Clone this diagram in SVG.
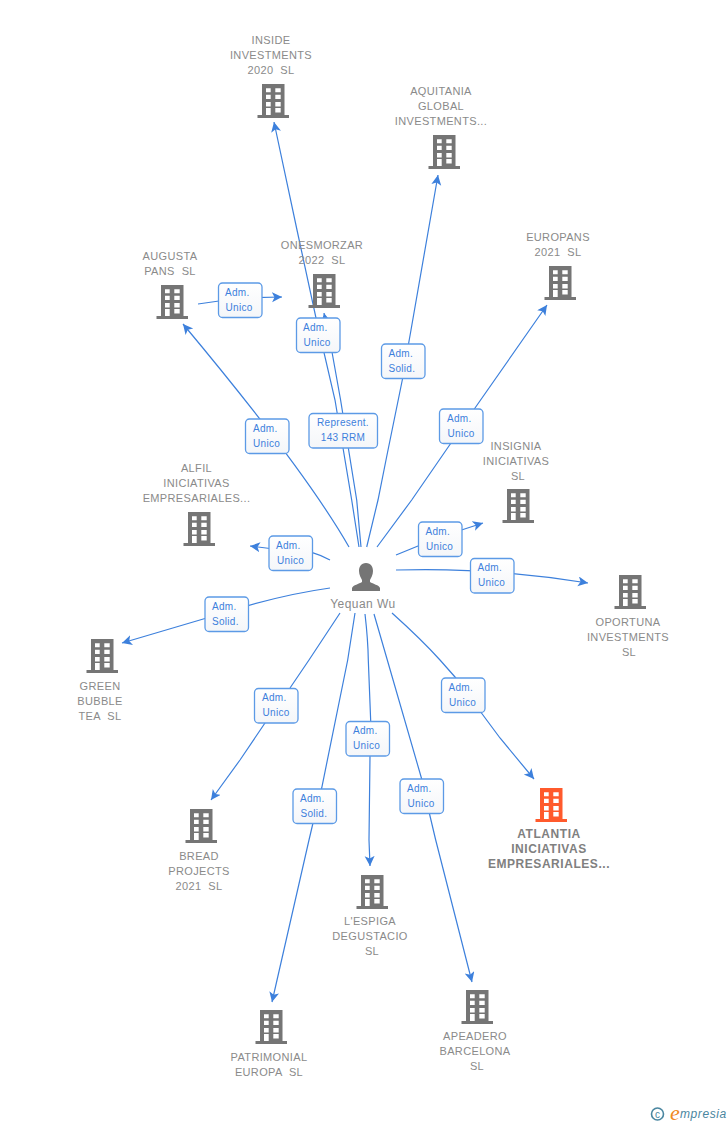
<svg xmlns="http://www.w3.org/2000/svg" width="728" height="1125" viewBox="0 0 728 1125">
<style>
text{font-family:"Liberation Sans",Arial,sans-serif}
.n{font-size:11px;fill:#8a8a8a;text-anchor:middle;letter-spacing:.35px;word-spacing:3.5px}
.a{font-size:12px;font-weight:bold;fill:#808080;letter-spacing:.55px;word-spacing:2px;text-anchor:middle}
.l{font-size:10px;fill:#3d80dc;letter-spacing:.3px}
.c path{fill:none;stroke:#3d80dc;stroke-width:1.2}
.b{fill:url(#g);stroke:#5c9ae6;stroke-width:1.3}
</style>
<defs>
<linearGradient id="g" x1="0" y1="0" x2="0" y2="1"><stop offset="0" stop-color="#fff"/><stop offset="1" stop-color="#f4f6f9"/></linearGradient>
<marker id="m" markerUnits="userSpaceOnUse" markerWidth="12" markerHeight="12" refX="10" refY="5" orient="auto"><path d="M0 0L10 5L0 10L2.500 5Z" fill="#3d80dc"/></marker>
<symbol id="i" overflow="visible"><path fill-rule="evenodd" d="M-11.500 0H11V31H15.500V34H-16V31H-11.500ZM-7.500 4.300V8.300H-2.800V4.300ZM1.800 4.300V8.300H7.200V4.300ZM-7.500 10.700V15H-2.800V10.700ZM1.800 10.700V15H7.200V10.700ZM-7.500 18V22.500H-2.800V18ZM1.800 18V22.500H7.200V18ZM-7.500 24V31H-2.800V24ZM1.800 24V28.500H7.200V24Z"/></symbol>
</defs>
<rect width="728" height="1125" fill="#fff"/>
<g id="connectors" class="c">
<path marker-end="url(#m)" d="M359 547L351.700 500L335 400L316 318L297 230L274 122"/>
<path marker-end="url(#m)" d="M361 547L356.700 500L340.600 400L332 352L324 313"/>
<path marker-end="url(#m)" d="M366.700 547L378 500L387 455L402.700 378L408.700 343L411 330L438 175"/>
<path marker-end="url(#m)" d="M377 547L411.700 500L451 443L474.300 409L547 305"/>
<path marker-end="url(#m)" d="M349 547Q305 470 183 324"/>
<path marker-end="url(#m)" d="M396 555L440 537L483 523"/>
<path marker-end="url(#m)" d="M396 570Q490 567 588 583"/>
<path marker-end="url(#m)" d="M330 560Q310 549 290 551L250 546"/>
<path marker-end="url(#m)" d="M330 588Q280 595 227 612L122 643"/>
<path marker-end="url(#m)" d="M340 613L309 660L290 688L265 723L240 760L211 800"/>
<path marker-end="url(#m)" d="M392 613Q422 640 440 660L455 677L480.700 712L500 738L534 779"/>
<path marker-end="url(#m)" d="M365 614Q368 640 368.300 660L370.700 721L370 756L369 840L370 866"/>
<path marker-end="url(#m)" d="M374 614Q380 635 387.300 660L421.700 779L429.300 813L435.700 840L472 982"/>
<path marker-end="url(#m)" d="M355 613L347.700 660L321.700 788L313 823L309 840L272 1002"/>
<path marker-end="url(#m)" d="M198 304L240 298L282 297"/>
</g>
<g id="edge-labels">
<g><rect class="b" x="218.500" y="283" width="43.500" height="34.500" rx="4"/><text class="l" x="225" y="296">Adm.</text><text class="l" x="225.500" y="311">Unico</text></g>
<g><rect class="b" x="296.500" y="318" width="43.500" height="34.500" rx="4"/><text class="l" x="303" y="331">Adm.</text><text class="l" x="303.500" y="346">Unico</text></g>
<g><rect class="b" x="381.500" y="344" width="43.500" height="34.500" rx="4"/><text class="l" x="388.500" y="357">Adm.</text><text class="l" x="388.500" y="372">Solid.</text></g>
<g><rect class="b" x="439.500" y="409" width="43.500" height="34.500" rx="4"/><text class="l" x="447" y="422">Adm.</text><text class="l" x="447.500" y="437">Unico</text></g>
<g><rect class="b" x="309" y="413.500" width="68.500" height="34.500" rx="4"/><text class="l" x="343" y="426" text-anchor="middle">Represent.</text><text class="l" x="343" y="441" text-anchor="middle">143 RRM</text></g>
<g><rect class="b" x="245.500" y="419" width="43.500" height="34.500" rx="4"/><text class="l" x="253" y="432">Adm.</text><text class="l" x="253" y="447">Unico</text></g>
<g><rect class="b" x="418.500" y="522" width="43.500" height="34.500" rx="4"/><text class="l" x="425.500" y="535">Adm.</text><text class="l" x="426" y="550">Unico</text></g>
<g><rect class="b" x="269" y="536" width="43.500" height="34.500" rx="4"/><text class="l" x="276" y="549">Adm.</text><text class="l" x="277" y="564">Unico</text></g>
<g><rect class="b" x="470.500" y="558.500" width="43.500" height="34.500" rx="4"/><text class="l" x="477.500" y="571">Adm.</text><text class="l" x="478" y="586">Unico</text></g>
<g><rect class="b" x="205" y="597" width="43.500" height="34.500" rx="4"/><text class="l" x="212" y="610">Adm.</text><text class="l" x="212" y="625">Solid.</text></g>
<g><rect class="b" x="441.500" y="678" width="43.500" height="34.500" rx="4"/><text class="l" x="448.500" y="691">Adm.</text><text class="l" x="449" y="706">Unico</text></g>
<g><rect class="b" x="254.500" y="688.500" width="43.500" height="34.500" rx="4"/><text class="l" x="262" y="701">Adm.</text><text class="l" x="262.500" y="716">Unico</text></g>
<g><rect class="b" x="346" y="721.500" width="43.500" height="34.500" rx="4"/><text class="l" x="353" y="734">Adm.</text><text class="l" x="353" y="749">Unico</text></g>
<g><rect class="b" x="400" y="779" width="43.500" height="34.500" rx="4"/><text class="l" x="407" y="792">Adm.</text><text class="l" x="407.500" y="807">Unico</text></g>
<g><rect class="b" x="293" y="789" width="43.500" height="34.500" rx="4"/><text class="l" x="300" y="802">Adm.</text><text class="l" x="300.500" y="817">Solid.</text></g>
</g>
<g id="inside" fill="#757575"><use href="#i" x="273.500" y="84"/><text class="n" x="271" y="44">INSIDE</text><text class="n" x="271" y="59">INVESTMENTS</text><text class="n" x="271" y="74">2020 SL</text></g>
<g id="aquitania" fill="#757575"><use href="#i" x="444.500" y="135"/><text class="n" x="441" y="95">AQUITANIA</text><text class="n" x="441" y="110">GLOBAL</text><text class="n" x="441" y="125">INVESTMENTS...</text></g>
<g id="europans" fill="#757575"><use href="#i" x="560.500" y="266"/><text class="n" x="558" y="241">EUROPANS</text><text class="n" x="558" y="256">2021 SL</text></g>
<g id="augusta" fill="#757575"><use href="#i" x="172.500" y="285"/><text class="n" x="170" y="260">AUGUSTA</text><text class="n" x="170" y="275">PANS SL</text></g>
<g id="onesmorzar" fill="#757575"><use href="#i" x="324.500" y="274"/><text class="n" x="322" y="249">ONESMORZAR</text><text class="n" x="322" y="264">2022 SL</text></g>
<g id="insignia" fill="#757575"><use href="#i" x="518.500" y="489"/><text class="n" x="516" y="450">INSIGNIA</text><text class="n" x="516" y="465">INICIATIVAS</text><text class="n" x="518" y="480">SL</text></g>
<g id="alfil" fill="#757575"><use href="#i" x="199.500" y="512"/><text class="n" x="196.500" y="472">ALFIL</text><text class="n" x="196.500" y="487">INICIATIVAS</text><text class="n" x="196.500" y="502">EMPRESARIALES...</text></g>
<g id="oportuna" fill="#757575"><use href="#i" x="630.500" y="575"/><text class="n" x="628" y="626">OPORTUNA</text><text class="n" x="628" y="641">INVESTMENTS</text><text class="n" x="629" y="656">SL</text></g>
<g id="green" fill="#757575"><use href="#i" x="102.500" y="639"/><text class="n" x="100" y="690">GREEN</text><text class="n" x="100" y="705">BUBBLE</text><text class="n" x="100" y="720">TEA SL</text></g>
<g id="bread" fill="#757575"><use href="#i" x="201.500" y="809"/><text class="n" x="199" y="860">BREAD</text><text class="n" x="199" y="875">PROJECTS</text><text class="n" x="199" y="890">2021 SL</text></g>
<g id="atlantia" fill="#ff5a2c"><use href="#i" x="551.500" y="788"/><text class="a" x="549" y="838">ATLANTIA</text><text class="a" x="549" y="853">INICIATIVAS</text><text class="a" x="549" y="868">EMPRESARIALES...</text></g>
<g id="espiga" fill="#757575"><use href="#i" x="372.500" y="875"/><text class="n" x="370" y="925">L'ESPIGA</text><text class="n" x="370" y="940">DEGUSTACIO</text><text class="n" x="372" y="955">SL</text></g>
<g id="apeadero" fill="#757575"><use href="#i" x="477.500" y="990"/><text class="n" x="475" y="1040">APEADERO</text><text class="n" x="475" y="1055">BARCELONA</text><text class="n" x="477" y="1070">SL</text></g>
<g id="patrimonial" fill="#757575"><use href="#i" x="271.500" y="1010"/><text class="n" x="269" y="1061">PATRIMONIAL</text><text class="n" x="269" y="1076">EUROPA SL</text></g>
<g id="yequan"><path fill="#757575" d="M366 563C371 563 373 567 373 571C373 575 371 578 370 580V582C373 584 379 585 380 588V591H352V588C353 585 359 584 362 582V580C361 578 359 575 359 571C359 567 361 563 366 563Z"/><text x="363" y="608" font-size="12" fill="#8a8a8a" text-anchor="middle" letter-spacing=".45">Yequan Wu</text></g>
<g id="logo"><circle cx="657.500" cy="1114" r="6" fill="none" stroke="#4a86a0" stroke-width="1.600"/><text x="657.500" y="1117.500" font-size="10" fill="#4a86a0" text-anchor="middle">c</text><text x="670" y="1120" font-size="22" font-style="italic" fill="#f08a1e" style="font-family:'Liberation Serif',serif">e</text><text x="680" y="1118" font-size="12" font-style="italic" fill="#4a86a0" letter-spacing=".6">mpresia</text></g>
</svg>
